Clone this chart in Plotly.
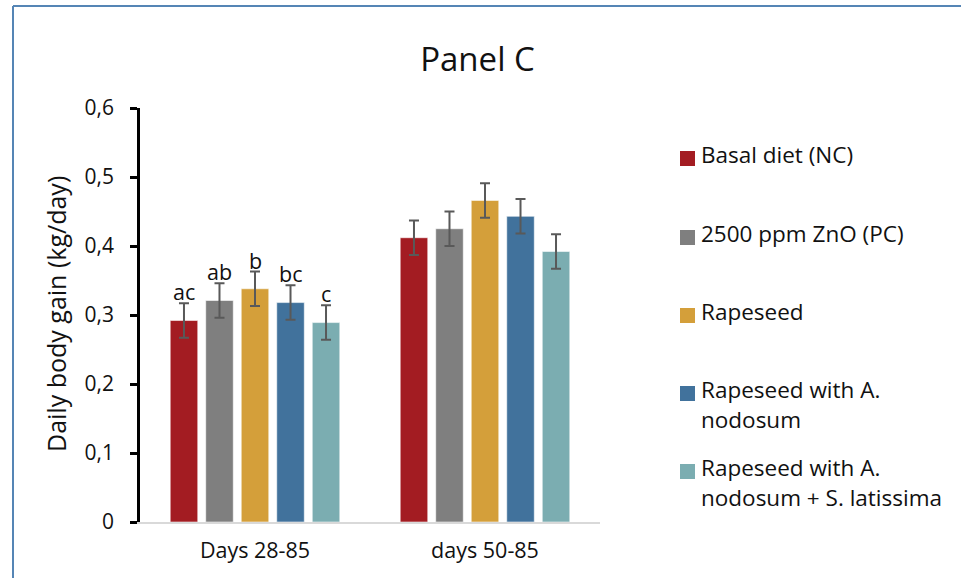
import plotly.graph_objects as go

# ---- data -------------------------------------------------------------
periods = ["Days 28-85", "days 50-85"]
series_names = [
    "Basal diet (NC)",
    "2500 ppm ZnO (PC)",
    "Rapeseed",
    "Rapeseed with A. nodosum",
    "Rapeseed with A. nodosum + S. latissima",
]
legend_lines = [
    ["Basal diet (NC)"],
    ["2500 ppm ZnO (PC)"],
    ["Rapeseed"],
    ["Rapeseed with A.", "nodosum"],
    ["Rapeseed with A.", "nodosum + S. latissima"],
]
gain_nc = [0.292, 0.412]
gain_pc = [0.321, 0.425]
gain_rs = [0.338, 0.466]
gain_rs_an = [0.318, 0.443]
gain_rs_an_sl = [0.289, 0.392]
err_nc = [0.025, 0.025]
err_pc = [0.025, 0.025]
err_rs = [0.025, 0.025]
err_rs_an = [0.025, 0.025]
err_rs_an_sl = [0.025, 0.025]
letters_first_period = ["ac", "ab", "b", "bc", "c"]
y_ticks = [0, 0.1, 0.2, 0.3, 0.4, 0.5, 0.6]
y_tick_labels = ["0", "0,1", "0,2", "0,3", "0,4", "0,5", "0,6"]

values = [gain_nc, gain_pc, gain_rs, gain_rs_an, gain_rs_an_sl]
errors = [err_nc, err_pc, err_rs, err_rs_an, err_rs_an_sl]
colors = ["#A31C22", "#7F7F7F", "#D49F3A", "#41729C", "#7BADB1"]

# ---- geometry ---------------------------------------------------------
W, H = 961, 578
ML, MR, MT, MB = 140, 361, 108, 56
PW, PH = W - ML - MR, H - MT - MB
BARGAP, GROUPGAP = 0.228, 0.225
FONT = "Open Sans"
TXT = "#111111"


def px_x(px):
    return (px - ML) / PW


def px_y(py):
    return (H - MB - py) / PH


fig = go.Figure()
for name, vals, errs, col in zip(series_names, values, errors, colors):
    fig.add_trace(go.Bar(
        x=periods, y=vals, name=name,
        marker=dict(color=col, line=dict(color="rgba(255,255,255,0.55)", width=1)),
        error_y=dict(type="data", array=errs, visible=True,
                     color="#595959", thickness=2, width=5),
        showlegend=False, hoverinfo="skip",
    ))

annotations = []
shapes = []

# significance letters above the first period's bars
slot = (1 - BARGAP) / len(series_names)
for k, (lab, vals, errs) in enumerate(zip(letters_first_period, values, errors)):
    annotations.append(dict(
        x=0 + (k - (len(series_names) - 1) / 2) * slot, xref="x",
        y=vals[0] + errs[0], yref="y",
        text=lab, showarrow=False, xanchor="center", yanchor="bottom",
        yshift=-5, font=dict(family=FONT, size=21.5, color=TXT),
    ))

# legend: colour squares with wrapped labels
LEG_SQ_X, LEG_SQ = 680, 15
LEG_TXT_X = 699
LEG_BASE = [163, 242, 320, 398, 476]
LEG_STEP = 30
LEG_SIZE = 22.5
for base, lines, col in zip(LEG_BASE, legend_lines, colors):
    shapes.append(dict(
        type="rect", xref="paper", yref="paper",
        x0=px_x(LEG_SQ_X), x1=px_x(LEG_SQ_X + LEG_SQ),
        y0=px_y(base + 3), y1=px_y(base + 3 - LEG_SQ),
        fillcolor=col, line=dict(width=0),
    ))
    for j, line in enumerate(lines):
        b = base + j * LEG_STEP
        annotations.append(dict(
            x=px_x(LEG_TXT_X), y=px_y(b - 0.388 * LEG_SIZE),
            xref="paper", yref="paper", xanchor="left", yanchor="middle",
            text=line, showarrow=False,
            font=dict(family=FONT, size=LEG_SIZE, color=TXT),
        ))

# y-axis title
annotations.append(dict(
    x=px_x(56), y=px_y(314), xref="paper", yref="paper",
    text="Daily body gain (kg/day)", textangle=-90, showarrow=False,
    xanchor="center", yanchor="middle",
    font=dict(family=FONT, size=25, color=TXT),
))

# chart frame (top and left edges)
FRAME = "#5585B5"
shapes.append(dict(type="line", xref="paper", yref="paper",
                   x0=px_x(13), x1=px_x(W + 10), y0=px_y(6), y1=px_y(6),
                   line=dict(color=FRAME, width=2)))
shapes.append(dict(type="line", xref="paper", yref="paper",
                   x0=px_x(13), x1=px_x(13), y0=px_y(6), y1=px_y(H + 10),
                   line=dict(color=FRAME, width=2)))

fig.update_layout(
    width=W, height=H,
    margin=dict(l=ML, r=MR, t=MT, b=MB, autoexpand=False),
    paper_bgcolor="white", plot_bgcolor="white",
    barmode="group", bargap=BARGAP, bargroupgap=GROUPGAP,
    separators=",.",
    title=dict(text="Panel C", x=477.5 / W, xref="container",
               y=1 - 59.5 / H, yref="container", xanchor="center", yanchor="middle",
               font=dict(family=FONT, size=33, color=TXT)),
    xaxis=dict(showline=True, linecolor="#D9D9D9", linewidth=2,
               ticks="", showgrid=False, zeroline=False,
               tickfont=dict(family=FONT, size=21.5, color=TXT),
               ticklabelstandoff=8),
    yaxis=dict(range=[0, 0.6], tickvals=y_ticks, ticktext=y_tick_labels,
               showline=True, linecolor="black", linewidth=2.5,
               ticks="outside", ticklen=7, tickwidth=2.5, tickcolor="black",
               showgrid=False, zeroline=False,
               tickfont=dict(family=FONT, size=21, color=TXT),
               ticklabelstandoff=12),
    annotations=annotations, shapes=shapes,
    showlegend=False, hovermode=False,
)

fig.write_html("out.html")
